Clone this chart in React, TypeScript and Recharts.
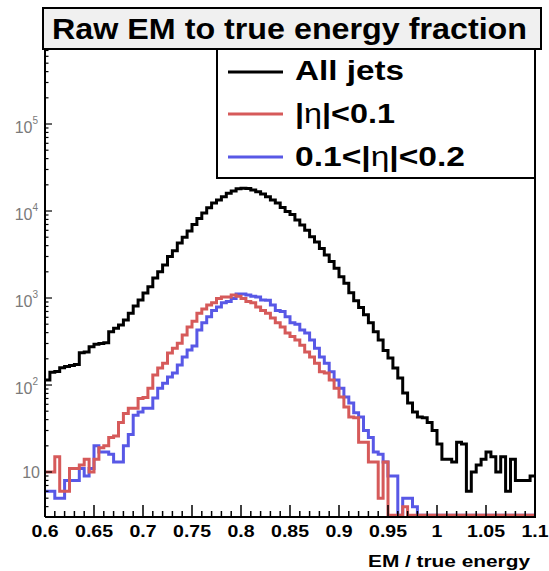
import React from 'react';
import { LineChart, Line, XAxis, YAxis } from 'recharts';

// histogram binning: 100 bins of 0.005 from 0.6 to 1.1
const BIN_START = 0.6;
const BIN_WIDTH = 0.005;

const allJets = [
  114, 140, 143, 158, 163, 168, 172, 235, 240, 275,
  295, 300, 305, 410, 450, 490, 560, 670, 810, 950,
  1140, 1350, 1700, 2000, 2400, 3000, 3500, 4300, 5000, 5900,
  7000, 8200, 9500, 10900, 12400, 13400, 14600, 16000, 17000, 18000,
  18300, 18200, 17400, 16700, 15700, 14600, 13400, 12400, 11000, 9900,
  9100, 7900, 6900, 6000, 5050, 4400, 3700, 3130, 2630, 2200,
  1760, 1480, 1150, 930, 780, 640, 520, 410, 330, 250,
  205, 157, 120, 81, 62, 49, 43, 42, 37, 30,
  21, 14, 14, 13, 22, 21, 6, 10, 12, 14,
  17, 15, 10, 15, 6, 14, 8, 8, 8, 9,
];

const etaBelow01 = [
  10, 10, 15, 6, 6, 11, 11, 12, 14, 10,
  14, 19, 20, 25, 26, 37, 47, 54, 54, 70,
  72, 92, 130, 157, 178, 233, 265, 302, 375, 465,
  540, 670, 750, 830, 880, 990, 1030, 1030, 1080, 1050,
  990, 910, 880, 790, 720, 670, 590, 520, 465, 395,
  360, 330, 287, 240, 210, 178, 142, 137, 114, 92,
  73, 56, 43, 42, 22, 22, 13, 13, 5, 13,
  0, 0, 0, 4, 0, 0, 0, 0, 0, 0,
  0, 0, 0, 0, 0, 0, 0, 0, 0, 0,
  0, 0, 0, 0, 0, 0, 0, 0, 0, 0,
];

const eta01to02 = [
  6, 6, 5, 5, 8, 8, 8, 11, 9, 11,
  20, 17, 17, 16, 13, 13, 20, 27, 45, 49,
  54, 54, 71, 92, 105, 124, 137, 170, 210, 252,
  280, 430, 520, 610, 720, 790, 880, 910, 990, 1110,
  1110, 1080, 1050, 1030, 950, 940, 830, 720, 700, 610,
  520, 500, 430, 395, 330, 265, 210, 178, 142, 114,
  92, 73, 62, 48, 43, 30, 25, 17, 16, 13,
  9, 9, 0, 5, 5, 4, 0, 0, 0, 0,
  0, 0, 0, 0, 0, 0, 0, 0, 0, 0,
  0, 0, 0, 0, 0, 0, 0, 0, 0, 0,
];

const legendLabels = ['All jets', '|η|<0.1', '0.1<|η|<0.2'];
const titleText = 'Raw EM to true energy fraction';
const xTitle = 'EM / true energy';

const Y_MIN = 3.04;
const Y_MAX = 7.28e5;
// empty bins sit just on top of the bottom axis, like ROOT draws them
const Y_FLOOR = Y_MIN * 1.045;

const W = 549;
const H = 571;
const PLOT_LEFT = 45;
const PLOT_RIGHT = 535;
const PLOT_TOP = 49;
const PLOT_BOTTOM = 517;

const BLACK = '#000000';
const RED = '#d65a5a';
const BLUE = '#5858e6';
const FONT = '"Liberation Sans", Arial, Helvetica, sans-serif';

const clamp = (v: number) => Math.max(v, Y_FLOOR);

const data = [];
for (let i = 0; i <= allJets.length; i++) {
  const k = Math.min(i, allJets.length - 1);
  data.push({
    x: Math.round((BIN_START + BIN_WIDTH * i) * 1000) / 1000,
    all: clamp(allJets[k]),
    eta1: clamp(etaBelow01[k]),
    eta2: clamp(eta01to02[k]),
  });
}

const xTicks: number[] = [];
for (let i = 60; i <= 110; i++) xTicks.push(i / 100);

const yTicks: number[] = [];
for (let e = 0; e <= 5; e++) {
  for (let m = 1; m <= 9; m++) {
    const v = m * Math.pow(10, e);
    if (v >= Y_MIN && v <= Y_MAX) yTicks.push(v);
  }
}

const XTick = (props: any) => {
  const { x, payload } = props;
  const hundredths = Math.round(payload.value * 100);
  const major = hundredths % 5 === 0;
  return (
    <g>
      <line x1={x} x2={x} y1={PLOT_BOTTOM} y2={PLOT_BOTTOM - (major ? 12 : 6)} stroke={BLACK} strokeWidth={1.5} />
      {major && (
        <text
          transform={`translate(${x},537) scale(1.22,1)`}
          textAnchor="middle"
          fontFamily={FONT}
          fontWeight="bold"
          fontSize={16}
          fill={BLACK}
        >
          {String(hundredths / 100)}
        </text>
      )}
    </g>
  );
};

const YTick = (props: any) => {
  const { y, payload } = props;
  const exp = Math.log10(payload.value);
  const major = Math.abs(exp - Math.round(exp)) < 1e-6;
  const n = Math.round(exp);
  return (
    <g>
      <line x1={PLOT_LEFT} x2={PLOT_LEFT + (major ? 7 : 3.5)} y1={y} y2={y} stroke={BLACK} strokeWidth={1.2} />
      {major && n === 1 && (
        <text x={40} y={y + 6} textAnchor="end" fontFamily={FONT} fontSize={16} fill="#7a7a7a">
          10
        </text>
      )}
      {major && n > 1 && (
        <text x={38} y={y + 9} textAnchor="end" fontFamily={FONT} fontSize={16} fill="#7a7a7a">
          10
          <tspan fontSize={10} dy={-9}>{n}</tspan>
        </text>
      )}
    </g>
  );
};

const Overlay = () => {
  const rows = [
    { label: legendLabels[0], color: BLACK, y: 72, base: 80, len: 109 },
    { label: legendLabels[1], color: RED, y: 114, base: 123, len: 100 },
    { label: legendLabels[2], color: BLUE, y: 157, base: 166, len: 170 },
  ];
  const renderLabel = (s: string) => {
    const parts = s.split('η');
    return parts.map((p, i) => (
      <React.Fragment key={i}>
        {p}
        {i < parts.length - 1 && <tspan fontWeight="normal">η</tspan>}
      </React.Fragment>
    ));
  };
  return (
    <svg width={W} height={H} style={{ position: 'absolute', left: 0, top: 0, pointerEvents: 'none' }}>
      {/* right side of frame */}
      <line x1={PLOT_RIGHT} x2={PLOT_RIGHT} y1={PLOT_TOP} y2={PLOT_BOTTOM + 1} stroke={BLACK} strokeWidth={2} />
      {/* title box */}
      <rect x={43} y={8} width={498} height={41} fill="#f0f0f0" stroke={BLACK} strokeWidth={2} />
      <text x={52} y={39} fontFamily={FONT} fontWeight="bold" fontSize={29} textLength={475} lengthAdjust="spacingAndGlyphs" fill={BLACK}>
        {titleText}
      </text>
      {/* legend */}
      <rect x={217} y={49} width={318} height={129} fill="#ffffff" stroke={BLACK} strokeWidth={2} />
      {rows.map((r) => (
        <g key={r.label}>
          <line x1={228} x2={283} y1={r.y} y2={r.y} stroke={r.color} strokeWidth={3} />
          <text x={295} y={r.base} fontFamily={FONT} fontWeight="bold" fontSize={28} textLength={r.len} lengthAdjust="spacingAndGlyphs" fill={BLACK}>
            {renderLabel(r.label)}
          </text>
        </g>
      ))}
      {/* x axis title */}
      <text x={368} y={567} fontFamily={FONT} fontWeight="bold" fontSize={16} textLength={162} lengthAdjust="spacingAndGlyphs" fill={BLACK}>
        {xTitle}
      </text>
    </svg>
  );
};

export default function App() {
  return (
    <div style={{ position: 'absolute', left: 0, top: 0, width: W, height: H, background: '#fff' }}>
      <LineChart
        width={W}
        height={H}
        data={data}
        margin={{ top: PLOT_TOP, right: W - PLOT_RIGHT, bottom: 0, left: 0 }}
      >
        <XAxis
          dataKey="x"
          type="number"
          domain={[0.6, 1.1]}
          allowDataOverflow
          ticks={xTicks}
          interval={0}
          tick={<XTick />}
          tickLine={false}
          axisLine={{ stroke: BLACK, strokeWidth: 2 }}
          height={H - PLOT_BOTTOM}
        />
        <YAxis
          type="number"
          scale="log"
          domain={[Y_MIN, Y_MAX]}
          allowDataOverflow
          ticks={yTicks}
          interval={0}
          tick={<YTick />}
          tickLine={false}
          axisLine={{ stroke: BLACK, strokeWidth: 2 }}
          width={PLOT_LEFT}
        />
        <Line type="stepAfter" dataKey="all" stroke={BLACK} strokeWidth={3} dot={false} isAnimationActive={false} />
        <Line type="stepAfter" dataKey="eta2" stroke={BLUE} strokeWidth={3} dot={false} isAnimationActive={false} />
        <Line type="stepAfter" dataKey="eta1" stroke={RED} strokeWidth={3} dot={false} isAnimationActive={false} />
      </LineChart>
      <Overlay />
    </div>
  );
}
